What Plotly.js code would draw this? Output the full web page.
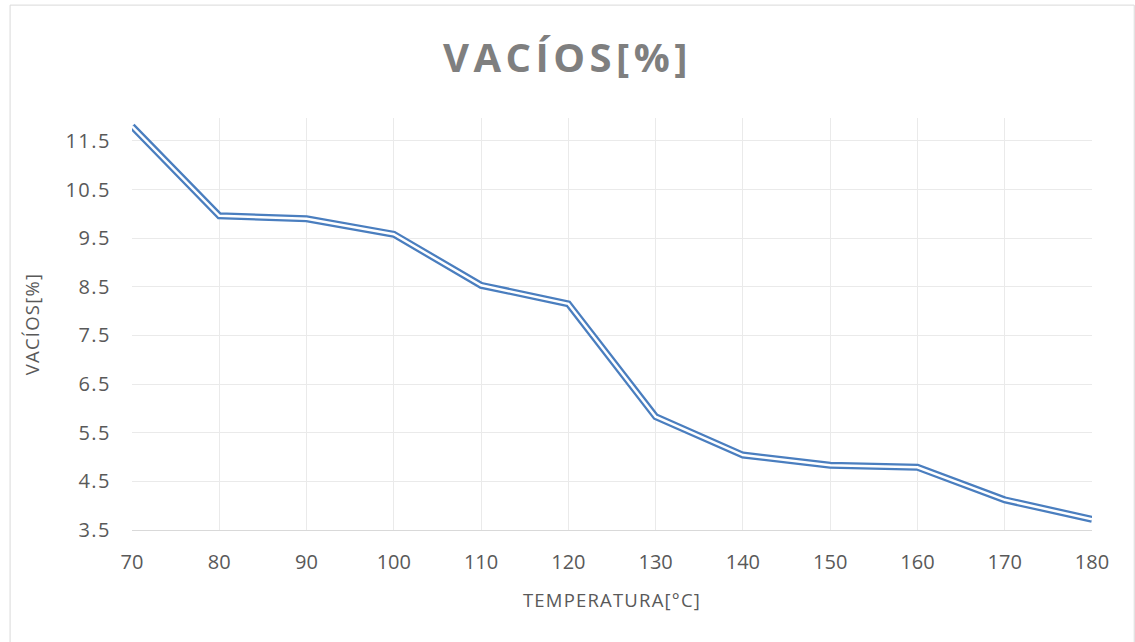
<!DOCTYPE html>
<html>
<head>
<meta charset="utf-8">
<script src="https://cdn.plot.ly/plotly-3.0.1.min.js"></script>
<style>
html,body{margin:0;padding:0;background:#fff;}
#chart{width:1135px;height:642px;}
#chart .gtitle{letter-spacing:4.5px;}
#chart .g-xtitle text,#chart .g-ytitle text{letter-spacing:1.2px;}
#chart .ytick text{letter-spacing:1.5px;}
</style>
</head>
<body>
<div id="chart"></div>
<script>
const temperatura = [70, 80, 90, 100, 110, 120, 130, 140, 150, 160, 170, 180];
const vacios = [11.8, 9.96, 9.9, 9.58, 8.53, 8.15, 5.83, 5.04, 4.83, 4.79, 4.12, 3.72];
const xTickVals = [70, 80, 90, 100, 110, 120, 130, 140, 150, 160, 170, 180];
const yTickVals = [3.5, 4.5, 5.5, 6.5, 7.5, 8.5, 9.5, 10.5, 11.5];

const blue = '#4A7EBF';
const fontFam = '"Open Sans", "Liberation Sans", sans-serif';

const traces = [
  {x: temperatura, y: vacios, mode: 'lines', line: {color: blue, width: 7}, hoverinfo: 'skip', showlegend: false},
  {x: temperatura, y: vacios, mode: 'lines', line: {color: '#ffffff', width: 2.5}, hoverinfo: 'skip', showlegend: false}
];

const layout = {
  width: 1135, height: 642,
  margin: {l: 132, r: 43, t: 118, b: 112},
  paper_bgcolor: '#ffffff', plot_bgcolor: '#ffffff',
  showlegend: false,
  title: {text: '<b>VACÍOS[%]</b>', x: 0.5, xanchor: 'center', y: 0.91, yanchor: 'middle',
          font: {family: fontFam, size: 40, color: '#7F7F7F'}},
  xaxis: {
    range: [70, 180], tickmode: 'array', tickvals: xTickVals,
    showgrid: true, gridcolor: '#EAEAEA', gridwidth: 1,
    showline: true, linecolor: '#D9D9D9', linewidth: 1,
    zeroline: false, ticks: '', ticklabelstandoff: 14,
    tickfont: {family: fontFam, size: 20, color: '#595959'},
    title: {text: 'TEMPERATURA[°C]', standoff: 20, font: {family: fontFam, size: 18.5, color: '#595959'}}
  },
  yaxis: {
    range: [3.5, 11.97], tickmode: 'array', tickvals: yTickVals,
    ticktext: yTickVals.map(v => v.toFixed(1)),
    showgrid: true, gridcolor: '#EAEAEA', gridwidth: 1,
    showline: false, zeroline: false, ticks: '', ticklabelstandoff: 20,
    tickfont: {family: fontFam, size: 20, color: '#595959'},
    title: {text: 'VACÍOS[%]', standoff: 26, font: {family: fontFam, size: 18.5, color: '#595959'}}
  },
  shapes: [
    {type: 'rect', xref: 'paper', yref: 'paper', x0: -0.127, x1: 1.044, y0: -0.3, y1: 1.274,
     line: {color: '#D9D9D9', width: 1}, fillcolor: 'rgba(0,0,0,0)', layer: 'below'}
  ]
};

Plotly.newPlot('chart', traces, layout, {displayModeBar: false, staticPlot: true});
</script>
</body>
</html>
